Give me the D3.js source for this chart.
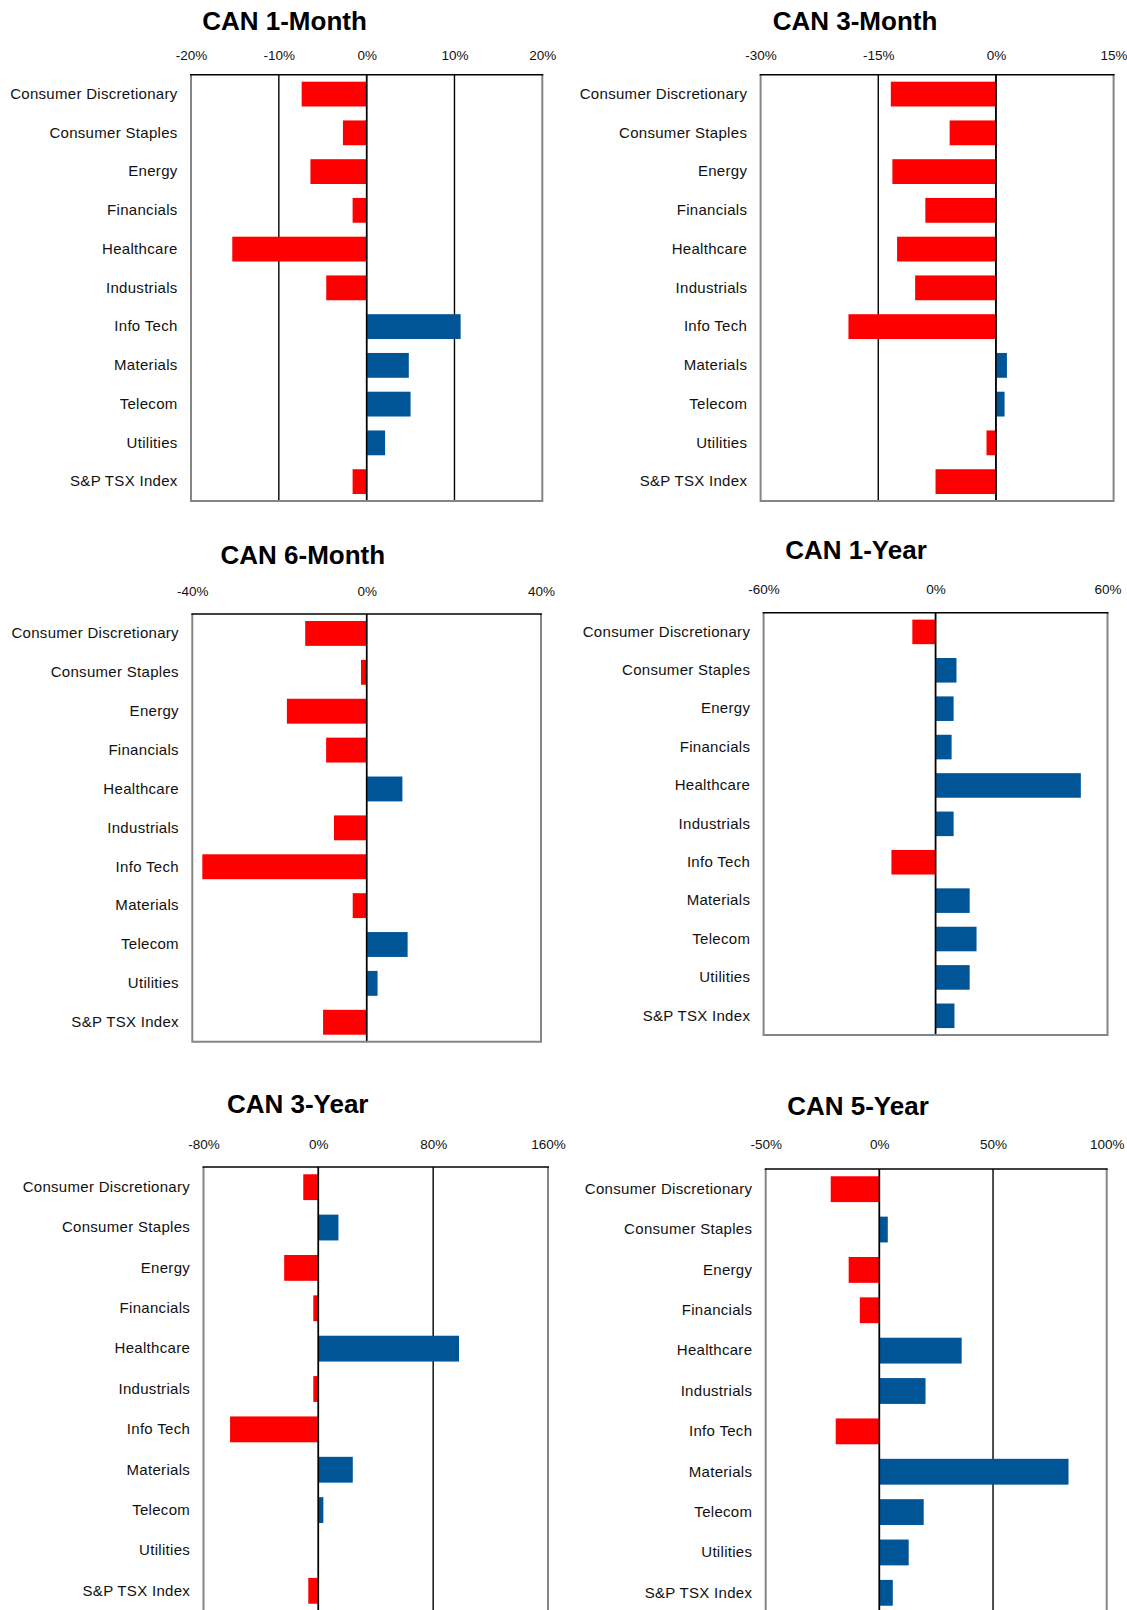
<!DOCTYPE html>
<html>
<head>
<meta charset="utf-8">
<script src="https://cdn.jsdelivr.net/npm/d3@7"></script>
<style>
  body { margin: 0; background: #fff; }
  svg { display: block; }
  text { font-family: "Liberation Sans", Arial, sans-serif; }
</style>
</head>
<body>
<svg id="chart" width="1127" height="1610"></svg>
<script>
// Sector returns for the Canadian market, in percent
const sectors = [
  "Consumer Discretionary", "Consumer Staples", "Energy", "Financials",
  "Healthcare", "Industrials", "Info Tech", "Materials", "Telecom",
  "Utilities", "S&P TSX Index"
];

const titles = ["CAN 1-Month", "CAN 3-Month", "CAN 6-Month", "CAN 1-Year", "CAN 3-Year", "CAN 5-Year"];

const ret1M = [-7.4, -2.7, -6.4, -1.6, -15.3, -4.6, 10.7, 4.8, 5.0, 2.1, -1.6];
const ret3M = [-13.4, -5.9, -13.2, -9.0, -12.6, -10.3, -18.8, 1.4, 1.1, -1.2, -7.7];
const ret6M = [-14.1, -1.3, -18.3, -9.3, 8.2, -7.5, -37.7, -3.2, 9.4, 2.5, -10.0];
const ret1Y = [-8.1, 7.3, 6.3, 5.6, 50.7, 6.3, -15.4, 11.9, 14.3, 11.9, 6.6];
const ret3Y = [-10.5, 14.0, -23.8, -3.5, 98.0, -3.5, -61.5, 24.0, 3.5, 0.4, -7.0];
const ret5Y = [-21.4, 3.7, -13.5, -8.6, 36.2, 20.3, -19.2, 83.2, 19.5, 12.9, 5.9];

const ticks1M = [-20, -10, 0, 10, 20];
const ticks3M = [-30, -15, 0, 15];
const ticks6M = [-40, 0, 40];
const ticks1Y = [-60, 0, 60];
const ticks3Y = [-80, 0, 80, 160];
const ticks5Y = [-50, 0, 50, 100];

const seriesList = [ret1M, ret3M, ret6M, ret1Y, ret3Y, ret5Y];
const tickList = [ticks1M, ticks3M, ticks6M, ticks1Y, ticks3Y, ticks5Y];

// Placement of each panel's plot box on the page
const layout = [
  { x0: 191,   x1: 542.3,  y0: 74.7,  y1: 501,    tx: 284.5, ty: 30,   tickOff: 19.3 },
  { x0: 760.6, x1: 1113.6, y0: 74.7,  y1: 501,    tx: 855,   ty: 30,   tickOff: 19.3 },
  { x0: 192.3, x1: 541,    y0: 614,   y1: 1041.7, tx: 302.8, ty: 564,  tickOff: 23 },
  { x0: 763.6, x1: 1107.5, y0: 612.7, y1: 1035,   tx: 856,   ty: 559,  tickOff: 23.4 },
  { x0: 203.5, x1: 548,    y0: 1167,  y1: 1611,   tx: 297.7, ty: 1113, tickOff: 23 },
  { x0: 765.7, x1: 1106.7, y0: 1169,  y1: 1613,   tx: 858,   ty: 1115, tickOff: 25 }
];

const RED = "#ff0000";
const BLUE = "#005596";
const svg = d3.select("#chart");

layout.forEach((L, i) => {
  const values = seriesList[i];
  const ticks = tickList[i];
  const w = L.x1 - L.x0, h = L.y1 - L.y0;

  const x = d3.scaleLinear().domain([ticks[0], ticks[ticks.length - 1]]).range([0, w]);
  const y = d3.scaleBand().domain(sectors).range([0, h]).paddingInner(0.36).paddingOuter(0.18);

  const g = svg.append("g").attr("transform", `translate(${L.x0},${L.y0})`);

  // Title
  svg.append("text")
    .attr("x", L.tx).attr("y", L.ty)
    .attr("text-anchor", "middle")
    .style("font-size", "26px").style("font-weight", "bold").attr("fill", "#000")
    .text(titles[i]);

  // Vertical gridlines at interior ticks
  g.selectAll("line.grid")
    .data(ticks.filter((t, k) => k > 0 && k < ticks.length - 1))
    .join("line").attr("class", "grid")
    .attr("x1", d => x(d)).attr("x2", d => x(d))
    .attr("y1", 0).attr("y2", h)
    .attr("stroke", "#000").attr("stroke-width", 1.4);

  // Bars
  g.selectAll("rect.bar")
    .data(values.map((v, k) => ({ v, s: sectors[k] })))
    .join("rect").attr("class", "bar")
    .attr("x", d => x(Math.min(0, d.v)))
    .attr("width", d => Math.abs(x(d.v) - x(0)))
    .attr("y", d => y(d.s))
    .attr("height", y.bandwidth())
    .attr("fill", d => d.v < 0 ? RED : BLUE);

  // Zero line drawn over the bars
  g.append("line")
    .attr("x1", x(0)).attr("x2", x(0)).attr("y1", 0).attr("y2", h)
    .attr("stroke", "#000").attr("stroke-width", 1.5);

  // Plot border: grey sides and bottom, black value axis along the top
  g.append("path")
    .attr("d", `M0,0 V${h} H${w} V0`)
    .attr("fill", "none").attr("stroke", "#858585").attr("stroke-width", 2);
  g.append("line")
    .attr("x1", -1).attr("x2", w + 1).attr("y1", 0).attr("y2", 0)
    .attr("stroke", "#000").attr("stroke-width", 1.5);

  // Percentage labels above the box
  const top = g.append("g")
    .call(d3.axisTop(x).tickValues(ticks).tickFormat(d => d + "%").tickSize(0).tickPadding(L.tickOff - 4.8));
  top.select(".domain").remove();
  top.selectAll("text")
    .style("font-family", '"Liberation Sans", Arial, sans-serif')
    .style("font-size", "13.5px").attr("fill", "#111");

  // Sector labels
  const left = g.append("g")
    .call(d3.axisLeft(y).tickSize(0).tickPadding(13.4));
  left.select(".domain").remove();
  left.selectAll("text")
    .style("font-family", '"Liberation Sans", Arial, sans-serif')
    .style("font-size", "15px").style("letter-spacing", "0.3px")
    .attr("fill", "#111");
});
</script>
</body>
</html>
